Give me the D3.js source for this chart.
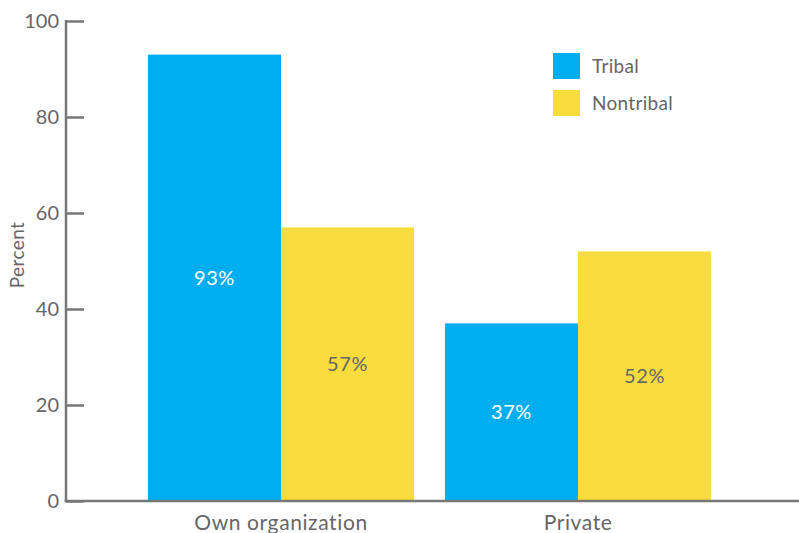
<!DOCTYPE html>
<html>
<head>
<meta charset="utf-8">
<script src="https://cdn.jsdelivr.net/npm/d3@7"></script>
<style>
  html, body { margin: 0; padding: 0; background: #fff; }
  svg { display: block; }
  text { font-family: Lato, "Noto Sans", sans-serif; }
</style>
</head>
<body>
<svg id="chart" width="799" height="533"></svg>
<script>
// Share of respondents by organization type
const categories = ["Own organization", "Private"];
const seriesNames = ["Tribal", "Nontribal"];
const tribalValues = [93, 37];
const nontribalValues = [57, 52];
const yTicks = [0, 20, 40, 60, 80, 100];

const colors = { Tribal: "#00AEEF", Nontribal: "#F8DC3D" };
const labelColors = { Tribal: "#ffffff", Nontribal: "#666666" };
const axisColor = "#777777";
const textColor = "#666666";
const fontStack = "Lato, 'Noto Sans', sans-serif";

const svg = d3.select("#chart");

const axisX = 66;
const y = d3.scaleLinear().domain([0, 100]).range([501, 21]);

const x = d3.scaleBand()
  .domain(categories)
  .range([63, 796])
  .paddingInner(0.104)
  .paddingOuter(0.286);

const xSub = d3.scaleBand()
  .domain(seriesNames)
  .range([0, x.bandwidth()])
  .padding(0);

const rows = categories.map((c, i) => ({
  category: c,
  values: [
    { series: "Tribal", value: tribalValues[i] },
    { series: "Nontribal", value: nontribalValues[i] }
  ]
}));

// Bars
const groups = svg.append("g").selectAll("g")
  .data(rows)
  .join("g")
  .attr("transform", d => `translate(${x(d.category)},0)`);

groups.selectAll("rect")
  .data(d => d.values)
  .join("rect")
  .attr("x", d => xSub(d.series))
  .attr("y", d => y(d.value))
  .attr("width", xSub.bandwidth())
  .attr("height", d => y(0) - y(d.value))
  .attr("fill", d => colors[d.series]);

// Value labels centred in each bar
groups.selectAll("text.value")
  .data(d => d.values)
  .join("text")
  .attr("class", "value")
  .attr("x", d => xSub(d.series) + xSub.bandwidth() / 2)
  .attr("y", d => (y(d.value) + y(0)) / 2)
  .attr("dy", "0.35em")
  .attr("text-anchor", "middle")
  .attr("font-size", 20)
  .attr("letter-spacing", 0.6)
  .attr("fill", d => labelColors[d.series])
  .text(d => d.value + "%");

// Y axis: ticks point inward, labels on the left
const yAxis = d3.axisLeft(y)
  .tickValues(yTicks)
  .tickSize(-18)
  .tickPadding(7)
  .tickFormat(d3.format("d"));

const gy = svg.append("g")
  .attr("transform", `translate(${axisX},0)`)
  .call(yAxis);
gy.select(".domain").remove();
gy.selectAll(".tick line").attr("stroke", axisColor).attr("stroke-width", 2.5);
gy.selectAll(".tick text")
  .attr("fill", textColor)
  .attr("font-size", 20)
  .attr("font-family", fontStack);

// Axis lines
svg.append("line")
  .attr("x1", axisX).attr("x2", axisX)
  .attr("y1", y(100) - 1).attr("y2", y(0) + 1.25)
  .attr("stroke", axisColor).attr("stroke-width", 2.5);

const xAxis = d3.axisBottom(x).tickSize(0).tickPadding(14);
const gx = svg.append("g")
  .attr("transform", `translate(0,${y(0)})`)
  .call(xAxis);
gx.select(".domain").remove();
gx.selectAll(".tick text")
  .attr("fill", textColor)
  .attr("font-size", 21)
  .attr("letter-spacing", 0.6)
  .attr("font-family", fontStack);

svg.append("line")
  .attr("x1", axisX - 1.25).attr("x2", 799)
  .attr("y1", y(0)).attr("y2", y(0))
  .attr("stroke", axisColor).attr("stroke-width", 2.5);

// Y axis title
svg.append("text")
  .attr("transform", `translate(24,${(y(0) + y(100)) / 2 - 6}) rotate(-90)`)
  .attr("text-anchor", "middle")
  .attr("font-size", 19)
  .attr("letter-spacing", 0.4)
  .attr("fill", textColor)
  .text("Percent");

// Legend
const legend = svg.append("g").attr("transform", "translate(553,53)");
const legendItems = legend.selectAll("g")
  .data(seriesNames)
  .join("g")
  .attr("transform", (d, i) => `translate(0,${i * 37})`);
legendItems.append("rect")
  .attr("width", 27).attr("height", 26)
  .attr("fill", d => colors[d]);
legendItems.append("text")
  .attr("x", 39).attr("y", 13)
  .attr("dy", "0.35em")
  .attr("font-size", 19)
  .attr("letter-spacing", 0.3)
  .attr("fill", textColor)
  .text(d => d);
</script>
</body>
</html>
